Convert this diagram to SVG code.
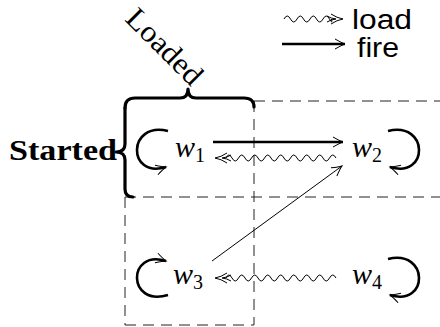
<svg xmlns="http://www.w3.org/2000/svg" width="440" height="327" viewBox="0 0 440 327">
<style>
.dash{fill:none;stroke:#222;stroke-width:1;stroke-dasharray:11 7}
.brace{fill:none;stroke:#000;stroke-width:3.2;stroke-linecap:round;stroke-linejoin:round}
.loop{fill:none;stroke:#000;stroke-width:2.6}
.fire{fill:none;stroke:#000;stroke-width:1}
.firek{fill:none;stroke:#000;stroke-width:2.4}
.wave{fill:none;stroke:#000;stroke-width:1}
.head{fill:none;stroke:#000;stroke-width:1}
.m{font-family:"Liberation Serif",serif;font-style:italic;font-size:30px;fill:#000}
.sub{font-style:normal;font-size:20px}
.lbl{font-family:"Liberation Serif",serif;font-size:30px;fill:#000}
.leg{font-family:"Liberation Sans",Arial,sans-serif;font-size:27px;fill:#000}
</style>
<defs>
<marker id="to" viewBox="-12 -7 14 14" refX="0" refY="0" markerWidth="14" markerHeight="14" markerUnits="userSpaceOnUse" orient="auto">
<path d="M-10,-5 Q-3,-1 0,0 Q-3,1 -10,5" fill="none" stroke="#000" stroke-width="1"/>
</marker>
</defs>
<g id="regions">
<line class="dash" x1="254" y1="101" x2="440" y2="101"/>
<line class="dash" x1="125" y1="197" x2="440" y2="197"/>
<line class="dash" x1="254" y1="101" x2="254" y2="325"/>
<line class="dash" x1="125" y1="197" x2="125" y2="325"/>
<line class="dash" x1="125" y1="325" x2="254" y2="325"/>
</g>
<g id="brace-loaded">
<path class="brace" d="M125,108 Q125,98 135,98 L180,98 Q188,98 188,89 Q188,98 196,98 L244,98 Q254,98 254,107"/>
<text class="lbl" transform="translate(124,20) rotate(45)" textLength="95" lengthAdjust="spacingAndGlyphs">Loaded</text>
</g>
<g id="brace-started">
<path class="brace" d="M125,108 L125,144 Q125,152 116,152 Q125,152 125,160 L125,189 Q125,197 133,197"/>
<text class="lbl" x="9" y="160" font-weight="bold" textLength="108" lengthAdjust="spacingAndGlyphs">Started</text>
</g>
<g id="legend">
<path class="wave" d="M284,19 q3.25,-6 6.5,0 t6.5,0 t6.5,0 t6.5,0 t6.5,0 t6.5,0 t6.5,0 t2,0"/>
<path class="head" d="M331,14 Q337,18 343,19 Q337,20 331,24 M327,16 Q331,18.5 336,19 Q331,19.5 327,22"/>
<text class="leg" x="352" y="29" textLength="60" lengthAdjust="spacingAndGlyphs">load</text>
<line class="firek" x1="282" y1="44" x2="345" y2="44" marker-end="url(#to)"/>
<text class="leg" x="357" y="57" textLength="42" lengthAdjust="spacingAndGlyphs">fire</text>
</g>
<g id="w1">
<text class="m" x="175" y="157">w<tspan class="sub" dy="5">1</tspan></text>
<path class="loop" d="M168,131 C127,121 127,179 166,167" marker-end="url(#to)"/>
</g>
<g id="w2">
<text class="m" x="352" y="157">w<tspan class="sub" dy="5">2</tspan></text>
<path class="loop" d="M388,131 C429,121 429,179 390,167" marker-end="url(#to)"/>
</g>
<g id="w3">
<text class="m" x="173" y="284">w<tspan class="sub" dy="5">3</tspan></text>
<path class="loop" d="M168,295 C127,307 127,249 166,261" marker-end="url(#to)"/>
</g>
<g id="w4">
<text class="m" x="352" y="284">w<tspan class="sub" dy="5">4</tspan></text>
<path class="loop" d="M388,259 C429,249 429,307 390,295" marker-end="url(#to)"/>
</g>
<g id="connectors">
<line class="firek" x1="213" y1="142" x2="343" y2="142" marker-end="url(#to)"/>
<path class="wave" d="M336,158 q-3.25,-6 -6.5,0 t-6.5,0 t-6.5,0 t-6.5,0 t-6.5,0 t-6.5,0 t-6.5,0 t-6.5,0 t-6.5,0 t-6.5,0 t-6.5,0 t-6.5,0 t-6.5,0 t-6.5,0 t-6.5,0 t-6.5,0 t-6,0"/>
<path class="head" d="M227,153 Q221,157 215,158 Q221,159 227,163 M231,155 Q227,157.5 222,158 Q227,158.5 231,161"/>
<line class="fire" x1="212" y1="261" x2="342" y2="166" marker-end="url(#to)"/>
<path class="wave" d="M336,278 q-3.25,-6 -6.5,0 t-6.5,0 t-6.5,0 t-6.5,0 t-6.5,0 t-6.5,0 t-6.5,0 t-6.5,0 t-6.5,0 t-6.5,0 t-6.5,0 t-6.5,0 t-6.5,0 t-6.5,0 t-6.5,0 t-6.5,0 t-6,0"/>
<path class="head" d="M227,273 Q221,277 215,278 Q221,279 227,283 M231,275 Q227,277.5 222,278 Q227,278.5 231,281"/>
</g>
</svg>
